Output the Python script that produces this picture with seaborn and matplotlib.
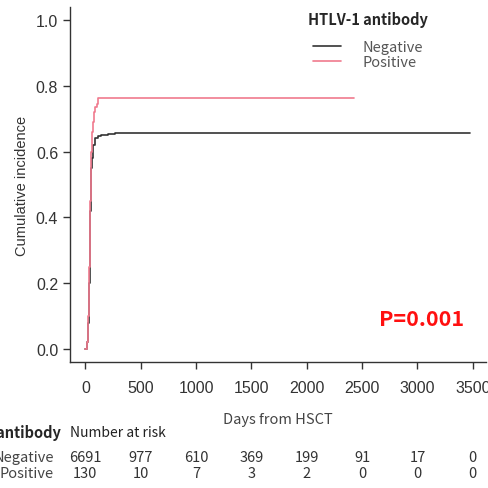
import pandas as pd
import seaborn as sns
import matplotlib.pyplot as plt
from matplotlib.lines import Line2D
from matplotlib.transforms import blended_transform_factory

# -----------------------------
# Data
# -----------------------------
neg_days = [0, 15, 25, 30, 35, 40, 45, 50, 55, 60, 70, 85, 110, 140, 200, 270, 3472]
neg_inc = [0, 0.02, 0.08, 0.14, 0.2, 0.3, 0.42, 0.5, 0.55, 0.58, 0.62, 0.64, 0.648, 0.652, 0.655, 0.658, 0.658]

pos_days = [0, 15, 25, 35, 45, 52, 58, 65, 75, 90, 105, 110, 2423]
pos_inc = [0, 0.02, 0.1, 0.25, 0.45, 0.6, 0.66, 0.69, 0.72, 0.735, 0.745, 0.764, 0.764]

groups = ["Negative", "Positive"]
risk_times = [0, 500, 1000, 1500, 2000, 2500, 3000, 3500]
risk_neg = [6691, 977, 610, 369, 199, 91, 17, 0]
risk_pos = [130, 10, 7, 3, 2, 0, 0, 0]

colors = {"Negative": "#333333", "Positive": "#F07A8E"}

df = pd.concat([
    pd.DataFrame({"days": neg_days, "inc": neg_inc, "group": "Negative"}),
    pd.DataFrame({"days": pos_days, "inc": pos_inc, "group": "Positive"}),
])

# -----------------------------
# Plot
# -----------------------------
sns.set_style("ticks")
plt.rcParams["font.family"] = ["Liberation Sans", "DejaVu Sans"]
jp = ["Noto Sans CJK JP", "DejaVu Sans"]

fig = plt.figure(figsize=(4.88, 4.89), dpi=100)
ax = fig.add_axes([70 / 488, 1 - 363 / 489, 416 / 488, 355 / 489])

sns.lineplot(data=df, x="days", y="inc", hue="group", palette=colors,
             drawstyle="steps-post", linewidth=1.2, legend=False, ax=ax,
             estimator=None, sort=False)

ax.set_xlim(-139, 3619)
ax.set_ylim(-0.04, 1.04)
ax.set_xticks(risk_times)
ax.set_yticks([0, 0.2, 0.4, 0.6, 0.8, 1.0])
ax.set_yticklabels(["0.0", "0.2", "0.4", "0.6", "0.8", "1.0"])
sns.despine(ax=ax)
for s in ["left", "bottom"]:
    ax.spines[s].set_color("#333333")
    ax.spines[s].set_linewidth(1.0)
ax.tick_params(direction="out", length=5, width=1.0, color="#333333",
               labelcolor="#333333", labelsize=11.5)
ax.tick_params(axis="x", pad=8)
ax.set_xlabel("Days from HSCT", family=jp, fontsize=10.5, color="#444444", labelpad=12)
ax.set_ylabel("Cumulative incidence", fontsize=10.5, color="#333333", labelpad=5)

# legend
handles = [Line2D([], [], color=colors[g], linewidth=1.2) for g in groups]
leg = ax.legend(handles, groups, title="HTLV-1 antibody", frameon=False,
                loc="upper center", bbox_to_anchor=(368 / 488, 1 - 5 / 489),
                bbox_transform=fig.transFigure, handlelength=1.9,
                handletextpad=1.5, labelspacing=0.1, borderpad=0,
                prop={"family": jp, "size": 10.5})
leg.get_title().set_fontfamily(jp)
leg.get_title().set_fontweight("bold")
leg.get_title().set_fontsize(10.5)
for t in leg.get_texts():
    t.set_color("#555555")
leg._legend_box.sep = 9

ax.text(422 / 488, 1 - 320 / 489, "P=0.001", transform=fig.transFigure,
        family=jp, fontsize=15.5, fontweight="bold", color="#FF1010",
        ha="center", va="center")

# number at risk table
tr = blended_transform_factory(ax.transData, fig.transFigure)
fig.text(61 / 488, 1 - 433 / 489, "HTLV-1 antibody", family=jp, fontsize=10.5,
         fontweight="bold", ha="right", va="center")
fig.text(70 / 488, 1 - 433 / 489, "Number at risk", family=jp, fontsize=10,
         color="#222222", ha="left", va="center")
for row_y, lab, vals in [(458, "Negative", risk_neg), (474, "Positive", risk_pos)]:
    fig.text(54 / 488, 1 - row_y / 489, lab, family=jp, fontsize=10.5,
             color="#444444", ha="right", va="center")
    for t, v in zip(risk_times, vals):
        ax.text(t, 1 - row_y / 489, str(v), transform=tr, family=jp,
                fontsize=10.5, color="#333333", ha="center", va="center",
                clip_on=False)

fig.savefig("out.png", dpi=100)
